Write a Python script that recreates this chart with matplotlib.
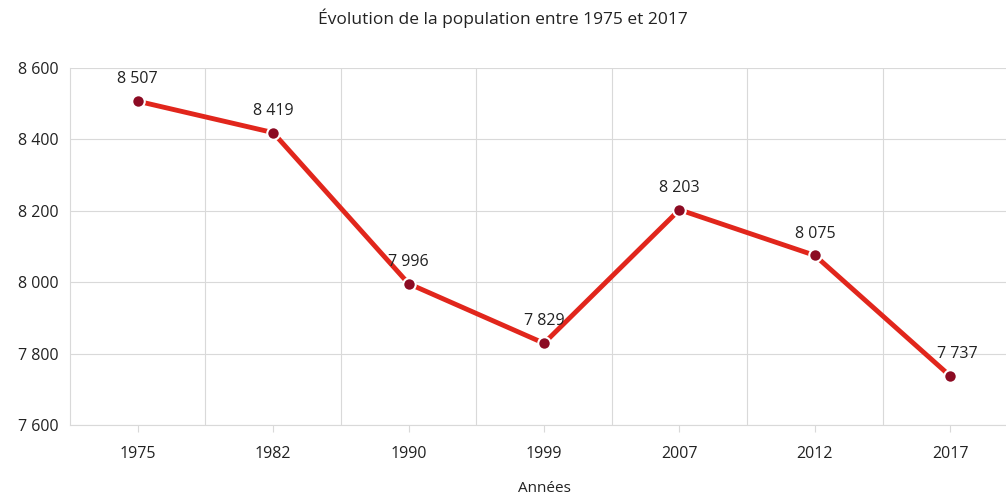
import matplotlib.pyplot as plt
from matplotlib.ticker import FuncFormatter, FixedLocator

annees = ["1975", "1982", "1990", "1999", "2007", "2012", "2017"]
population = [8507, 8419, 7996, 7829, 8203, 8075, 7737]
titre = "Évolution de la population entre 1975 et 2017"

plt.rcParams['font.family'] = ['Open Sans', 'DejaVu Sans']

def fr(v, pos=None):
    return f"{int(v):,}".replace(",", " ")

fig = plt.figure(figsize=(10.06, 4.97), dpi=100)
# plot area runs a bit past the right edge of the figure, as in the original
ax = fig.add_axes([70 / 1006, 1 - 425 / 497, 948 / 1006, 357 / 497])

x = list(range(len(annees)))
ax.plot(x, population, color='#e1261c', lw=3.5, zorder=3,
        marker='o', markersize=9, markerfacecolor='#8c0b23',
        markeredgecolor='white', markeredgewidth=1.5)

for xi, v in zip(x, population):
    dx = 5 if xi == len(annees) - 1 else 0
    ax.annotate(fr(v), (xi, v), xytext=(dx, 10), textcoords='offset points',
                ha='center', va='bottom', fontsize=11.5, color='#222222', zorder=4)

ax.set_xlim(-0.5, len(annees) - 0.5)
ax.set_ylim(7600, 8600)
ax.set_yticks(range(7600, 8601, 200))
ax.yaxis.set_major_formatter(FuncFormatter(fr))
ax.set_xticks(x)
ax.set_xticklabels(annees)
ax.xaxis.set_minor_locator(FixedLocator([i + 0.5 for i in x]))

ax.grid(axis='y', which='major', color='#d9d9d9', lw=0.8)
ax.grid(axis='x', which='minor', color='#d9d9d9', lw=0.8)
ax.set_axisbelow(True)

for s in ['top', 'right']:
    ax.spines[s].set_visible(False)
for s in ['left', 'bottom']:
    ax.spines[s].set_color('#d9d9d9')
    ax.spines[s].set_linewidth(0.8)

ax.tick_params(axis='y', length=0, labelsize=11.5, labelcolor='#222222', pad=8)
ax.tick_params(axis='x', which='major', length=5, color='#d9d9d9',
               labelsize=11.5, labelcolor='#222222', pad=10)
ax.tick_params(axis='x', which='minor', length=0)

ax.set_xlabel("Années", fontsize=11, color='#222222', labelpad=14)
fig.text(0.5, 1 - 18 / 497, titre, ha='center', va='center', fontsize=12.5, color='#222222')

fig.savefig('out.png', dpi=100)
